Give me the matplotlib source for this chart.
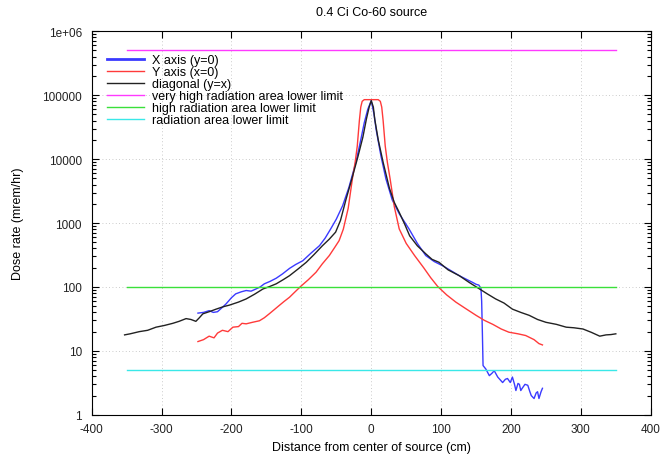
import matplotlib
matplotlib.use("Agg")
import matplotlib.pyplot as plt
from matplotlib.ticker import LogLocator, FixedLocator, FixedFormatter, NullFormatter

plt.rcParams['font.family'] = ['Liberation Sans', 'DejaVu Sans']
plt.rcParams['axes.unicode_minus'] = False

title = "0.4 Ci Co-60 source"
xlabel = "Distance from center of source (cm)"
ylabel = "Dose rate (mrem/hr)"

# X axis (y=0)
blue_x = [-248, -240, -232, -226, -220, -214, -208, -200, -194, -186, -179, -172, -165, -159,
          -153, -145, -136, -127, -117, -108, -98, -86, -74, -66, -58, -50, -41, -32, -22, -15,
          -10, -5, 0, 4, 7, 14, 21, 30, 40, 54, 66, 78, 90, 102, 114, 126, 136, 145, 150, 154,
          157, 158, 159, 160, 164, 169, 173, 176, 181, 188, 192, 195, 199, 202, 205, 207, 210,
          212, 214, 216, 220, 224, 227, 229, 233, 236, 238, 240, 243, 245]
blue_y = [39, 40, 42.6, 40, 41, 47, 54, 68, 78, 84, 88, 86, 93, 100,
          112, 122, 137, 160, 195, 225, 257, 340, 443, 580, 810, 1150, 1860, 3600, 8900, 20000,
          37000, 60000, 82000, 50000, 29000, 11000, 4900, 2300, 1400, 810, 480, 310, 250, 215, 180, 150, 132, 118, 110, 107,
          95, 60, 20, 5.9, 5.2, 4.1, 4.5, 4.9, 3.9, 3.2, 3.6, 3.7, 3.2, 3.9, 3.0, 2.4, 3.1,
          3.0, 2.4, 2.6, 3.0, 2.9, 2.3, 2.0, 1.8, 2.2, 2.3, 1.8, 2.3, 2.6]

# Y axis (x=0)
red_x = [-248, -240, -232, -225, -220, -213, -205, -198, -190, -185, -179, -170, -160, -153,
         -146, -139, -132, -125, -117, -109, -101, -90, -79, -70, -60, -52, -46, -40, -33, -27,
         -23, -20, -17, -15, -13, -10, 0, 10, 13, 15, 17, 20, 23, 27, 33, 40, 50, 62, 75, 85,
         95, 108, 121, 135, 150, 162, 174, 186, 197, 210, 221, 233, 240, 245]
red_y = [14, 15, 17, 16, 19, 21, 20, 23.5, 24, 27, 26.5, 28, 29.6, 33,
         38, 44, 51, 59, 69, 84, 102, 130, 170, 230, 310, 420, 530, 800, 1700, 4900,
         9000, 16000, 40000, 65000, 80000, 85000, 85000, 85000, 80000, 65000, 40000, 16000, 9000, 4900, 1800, 810, 480, 310, 200, 140,
         102, 75, 58, 46, 36, 30, 26, 22, 19.6, 18.5, 17.4, 15, 13, 12.4]

# diagonal (y=x)
black_x = [-353, -345, -332, -320, -308, -296, -284, -275, -265, -258, -251, -246, -241, -232,
           -222, -212, -203, -190, -179, -167, -155, -145, -136, -126, -117, -105, -93, -82, -70,
           -60, -51, -44, -36, -28, -19, -12, -7, -3, 0, 3, 5, 10, 17, 26, 33, 40, 48, 55, 66,
           78, 87, 97, 110, 126, 140, 155, 166, 178, 190, 202, 214, 226, 238, 250, 265, 279, 290,
           303, 315, 327, 336, 343, 350]
black_y = [17.8, 18.5, 20, 21, 23.5, 25, 27, 29, 32, 31, 29, 33, 38, 41,
           45, 49, 52, 58, 65, 77, 93, 102, 112, 130, 150, 190, 243, 320, 440,
           560, 720, 1100, 2370, 4800, 11000, 22000, 42000, 65000, 82000, 65000, 42000, 20000, 8900, 3500, 2100, 1470, 950, 630, 440,
           330, 270, 243, 185, 150, 118, 93, 78, 65, 56, 45, 40, 36, 31, 28, 26, 23.5, 23,
           22, 19.5, 17, 17.8, 18, 18.5]

limit_x = [-350, 350]
very_high_limit = 500000
high_limit = 100
rad_limit = 5

xticks = [-400, -300, -200, -100, 0, 100, 200, 300, 400]
yticks = [1, 10, 100, 1000, 10000, 100000, 1000000]
ytick_labels = ["1", "10", "100", "1000", "10000", "100000", "1e+06"]

fig = plt.figure(figsize=(6.6, 4.6), dpi=100)
ax = fig.add_axes([0.139, 0.096, 0.847, 0.834])

ax.plot(blue_x, blue_y, color='#3a3aff', lw=1.0, label='X axis (y=0)')
ax.plot(red_x, red_y, color='#ff3a3a', lw=1.0, label='Y axis (x=0)')
ax.plot(black_x, black_y, color='#222222', lw=1.0, label='diagonal (y=x)')
ax.plot(limit_x, [very_high_limit] * 2, color='#ff3aff', lw=1.0, label='very high radiation area lower limit')
ax.plot(limit_x, [high_limit] * 2, color='#3ae03a', lw=1.0, label='high radiation area lower limit')
ax.plot(limit_x, [rad_limit] * 2, color='#3ae8e8', lw=1.0, label='radiation area lower limit')

ax.set_yscale('log')
ax.set_xlim(-400, 400)
ax.set_ylim(1, 1e6)
ax.xaxis.set_major_locator(FixedLocator(xticks))
ax.yaxis.set_major_locator(FixedLocator(yticks))
ax.yaxis.set_major_formatter(FixedFormatter(ytick_labels))
ax.yaxis.set_minor_locator(LogLocator(base=10, subs=range(2, 10), numticks=20))
ax.yaxis.set_minor_formatter(NullFormatter())
ax.tick_params(which='both', direction='in', top=True, right=True, labelsize=8.5, width=0.8,
               labelcolor='#222222')
ax.tick_params(which='major', length=5)
ax.tick_params(which='minor', length=3)
ax.tick_params(axis='x', pad=6)
ax.tick_params(axis='y', pad=7)
ax.grid(True, which='major', linestyle=(0, (1, 3)), color='#bbbbbb', lw=0.6)
for s in ax.spines.values():
    s.set_linewidth(0.8)

ax.set_title(title, fontsize=9, pad=12)
ax.set_xlabel(xlabel, fontsize=9, labelpad=4)
ax.set_ylabel(ylabel, fontsize=9, labelpad=13)

leg = ax.legend(loc='upper left', frameon=False, fontsize=9,
                handlelength=2.9, labelspacing=0.0, handletextpad=0.7, borderaxespad=0.0,
                borderpad=0.0)
leg.set_bbox_to_anchor((0.028, 0.94), transform=ax.transAxes)
leg.get_lines()[0].set_linewidth(2.0)

fig.savefig('out.png', dpi=100)
